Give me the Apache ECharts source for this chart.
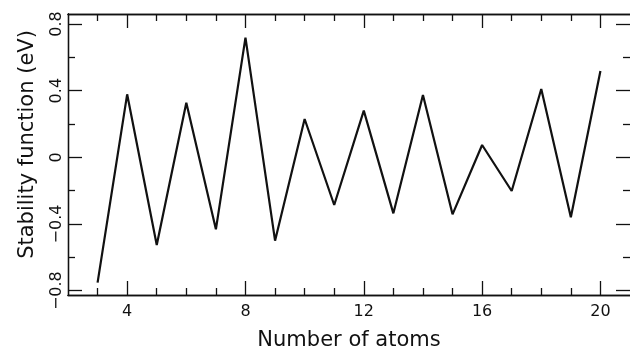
<!DOCTYPE html>
<html><head><meta charset="utf-8">
<script src="https://cdn.jsdelivr.net/npm/echarts@6/dist/echarts.min.js"></script>
<style>html,body{margin:0;padding:0;background:#fff}#c{width:630px;height:349px}</style>
</head><body><div id="c"></div>
<script>
const atoms = [3,4,5,6,7,8,9,10,11,12,13,14,15,16,17,18,19,20];
const stability = [-0.752,0.378,-0.526,0.328,-0.432,0.718,-0.500,0.230,-0.286,0.280,-0.336,0.374,-0.342,0.074,-0.202,0.410,-0.360,0.518];
const xMajorTicks = [4,8,12,16,20];
const xMinorTicks = [3,5,6,7,9,10,11,13,14,15,17,18,19];
const yMajorTicks = [-0.8,-0.4,0,0.4,0.8];
const yMinorTicks = [-0.6,-0.2,0.2,0.6];
const xName = 'Number of atoms';
const yName = 'Stability function (eV)';

const XMIN = 2, XMAX = 21, YMIN = -0.826, YMAX = 0.86;
const FONT = 'DejaVu Sans';
const col = '#111';
const lineStyle = {color: col, width: 1.3};

function xAx(pos, major, labels) {
  const vals = major ? xMajorTicks : xMinorTicks;
  return {
    type: 'value', position: pos, min: XMIN, max: XMAX,
    axisLine: {show: true, onZero: false, lineStyle},
    axisTick: {show: true, inside: true, length: major ? 14 : 7, lineStyle, customValues: vals},
    axisLabel: {show: labels, margin: 9, fontSize: 16, color: col, fontFamily: FONT, customValues: vals},
    splitLine: {show: false},
    name: labels ? xName : '', nameLocation: 'middle', nameGap: 35,
    nameTextStyle: {fontSize: 21, color: col, fontFamily: FONT}
  };
}
function yAx(pos, major, labels) {
  const vals = major ? yMajorTicks : yMinorTicks;
  return {
    type: 'value', position: pos, min: YMIN, max: YMAX,
    axisLine: {show: pos === 'left', onZero: false, lineStyle},
    axisTick: {show: true, inside: true, length: major ? 14 : 7, lineStyle, customValues: vals},
    axisLabel: {show: labels, rotate: 90, margin: 3, fontSize: 16, color: col, fontFamily: FONT, customValues: vals,
      formatter: v => (Math.abs(v) < 1e-9 ? '0' : (v < 0 ? '\u2212' + Math.abs(v).toFixed(1) : v.toFixed(1)))},
    splitLine: {show: false},
    name: labels ? yName : '', nameLocation: 'middle', nameGap: 30, nameRotate: 90,
    nameTextStyle: {fontSize: 21, color: col, fontFamily: FONT, padding: [0, 0, 0, 20]}
  };
}

const chart = echarts.init(document.getElementById('c'), null, {renderer: 'canvas'});
chart.setOption({
  animation: false,
  backgroundColor: '#fff',
  grid: {left: 68, top: 14, right: 0, bottom: 54, containLabel: false, outerBoundsMode: 'none'},
  xAxis: [xAx('bottom', true, true), xAx('bottom', false, false), xAx('top', true, false), xAx('top', false, false)],
  yAxis: [yAx('left', true, true), yAx('left', false, false), yAx('right', true, false), yAx('right', false, false)],
  series: [{
    type: 'line', xAxisIndex: 0, yAxisIndex: 0,
    data: atoms.map((a, i) => [a, stability[i]]),
    showSymbol: false, symbol: 'none',
    lineStyle: {color: col, width: 2.2}
  }]
});
</script></body></html>
